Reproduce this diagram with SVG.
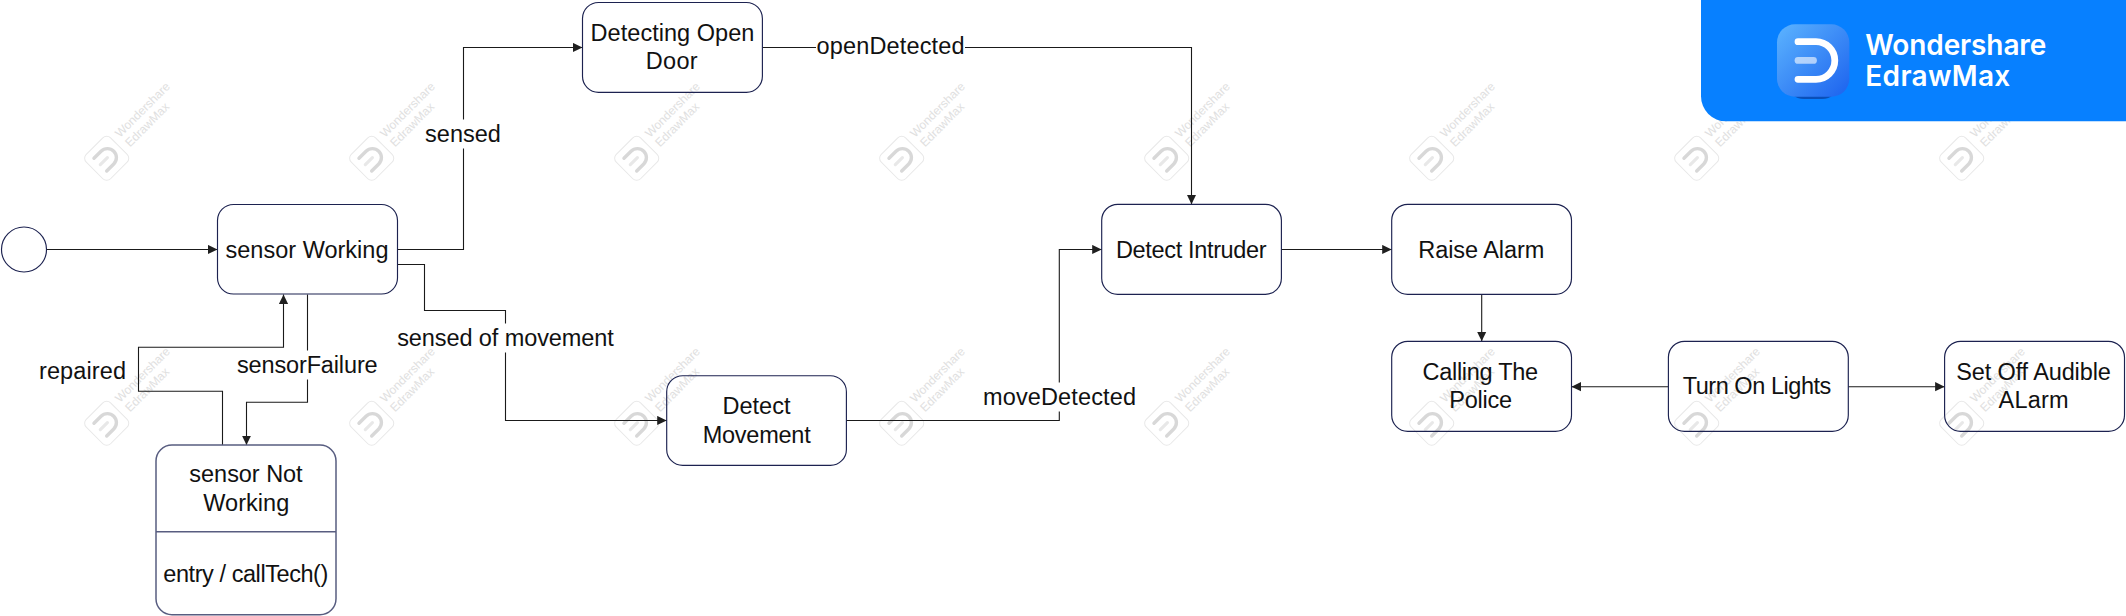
<svg xmlns="http://www.w3.org/2000/svg" width="2126" height="616" viewBox="0 0 2126 616">
  <style>
    text { font-family: "Liberation Sans", Arial, sans-serif; }
    .node { fill: none; stroke: #1c2250; stroke-width: 1.15; }
    .soft { fill: none; stroke: #585d80; stroke-width: 1.5; }
    .t { font-size: 23.5px; fill: #111111; text-anchor: middle; }
    .line { fill: none; stroke: #1a1a1a; stroke-width: 1.1; marker-end: url(#arrow); }
    .gap { fill: #ffffff; }
    .wmt { font-size: 12px; fill: #e0e0e0; }
    .brand { font-size: 28px; font-weight: 600; fill: #ffffff; font-family: Inter, "Liberation Sans", sans-serif; }
  </style>
  <defs>
    <marker id="arrow" markerUnits="userSpaceOnUse" markerWidth="10" markerHeight="10" refX="9.5" refY="5" orient="auto">
      <path d="M0 0.4 L9.5 5 L0 9.6 Z" fill="#1f1f1f"/>
    </marker>
    <linearGradient id="iconFill" x1="0" y1="0" x2="1" y2="1">
      <stop offset="0" stop-color="#5cb4ff"/>
      <stop offset="1" stop-color="#1c62ee"/>
    </linearGradient>
    <g id="wm">
      <g transform="rotate(-45)">
        <rect x="-17.2" y="-17.2" width="34.4" height="34.4" rx="5.5" fill="none" stroke="#e8e8e8" stroke-width="1"/>
        <path d="M-9 -9 H1 A9 9 0 0 1 1 9 H-9" fill="none" stroke="#d8d8d8" stroke-width="3.4" stroke-linecap="round"/>
        <path d="M-9 0 H1" fill="none" stroke="#e8e8e8" stroke-width="3.2" stroke-linecap="round"/>
      </g>
      <text class="wmt" transform="translate(13.3 -20.3) rotate(-45)">Wondershare</text>
      <text class="wmt" transform="translate(23.3 -10.7) rotate(-45)">EdrawMax</text>
    </g>
  </defs>
  <rect width="2126" height="616" fill="#ffffff"/>

  <g id="watermarks">
    <use href="#wm" x="106.7" y="158.3"/><use href="#wm" x="371.7" y="158.3"/><use href="#wm" x="636.7" y="158.3"/><use href="#wm" x="901.7" y="158.3"/><use href="#wm" x="1166.7" y="158.3"/><use href="#wm" x="1431.7" y="158.3"/><use href="#wm" x="1696.7" y="158.3"/><use href="#wm" x="1961.7" y="158.3"/>
    <use href="#wm" x="106.7" y="423.3"/><use href="#wm" x="371.7" y="423.3"/><use href="#wm" x="636.7" y="423.3"/><use href="#wm" x="901.7" y="423.3"/><use href="#wm" x="1166.7" y="423.3"/><use href="#wm" x="1431.7" y="423.3"/><use href="#wm" x="1696.7" y="423.3"/><use href="#wm" x="1961.7" y="423.3"/>
  </g>

  <g id="connectors">
    <path class="line" d="M46.5 249.5 H217.5"/>
    <path class="line" d="M397.5 249.5 H463.5 V47.5 H582.5"/>
    <rect class="gap" x="454" y="119.5" width="19" height="29"/>
    <text class="t" x="463" y="141.7" textLength="75.8">sensed</text>
    <path class="line" d="M397.5 264.5 H424.5 V310.5 H505.5 V420.5 H666.7"/>
    <rect class="gap" x="496" y="323.5" width="19" height="29"/>
    <text class="t" x="505.5" y="345.7" textLength="216.7">sensed of movement</text>
    <path class="line" d="M222.5 445 V391.3 H138.5 V347.3 H283.5 V294.5"/>
    <text class="t" x="82.5" y="379" textLength="87">repaired</text>
    <path class="line" d="M307.5 294.5 V402.3 H246.5 V445"/>
    <rect class="gap" x="298" y="350.5" width="19" height="29"/>
    <text class="t" x="307.3" y="372.7" textLength="140.7">sensorFailure</text>
    <path class="line" d="M762.4 47.5 H1191.5 V204.3"/>
    <rect class="gap" x="816" y="38" width="149" height="19"/>
    <text class="t" x="890.5" y="54" textLength="148">openDetected</text>
    <path class="line" d="M846.5 420.5 H1059.3 V249.5 H1101.7"/>
    <rect class="gap" x="1050" y="382.5" width="19" height="29"/>
    <text class="t" x="1059.5" y="405" textLength="153">moveDetected</text>
    <path class="line" d="M1281.5 249.5 H1391.7"/>
    <path class="line" d="M1481.7 294.5 V341.3"/>
    <path class="line" d="M1668.4 386.7 H1571.5"/>
    <path class="line" d="M1848.3 386.7 H1944.6"/>
  </g>

  <g id="start"><circle class="node" cx="24" cy="249.5" r="22.5"/></g>
  <g id="sensorWorking">
    <rect class="node" x="217.5" y="204.5" width="180" height="89.5" rx="16"/>
    <text class="t" x="307" y="257.5" textLength="163">sensor Working</text>
  </g>
  <g id="sensorNotWorking">
    <rect class="soft" x="156" y="445" width="180" height="169.7" rx="16"/>
    <path class="soft" d="M156 531.7 H336"/>
    <text class="t" x="246" y="482.3" textLength="113.3">sensor Not</text>
    <text class="t" x="246.3" y="510.7" textLength="86">Working</text>
    <text class="t" x="245.8" y="581.7" textLength="165">entry / callTech()</text>
  </g>
  <g id="detectingOpenDoor">
    <rect class="node" x="582.5" y="2.5" width="179.9" height="89.8" rx="16"/>
    <text class="t" x="672.5" y="40.7" textLength="163.8">Detecting Open</text>
    <text class="t" x="671.7" y="69.3" textLength="52">Door</text>
  </g>
  <g id="detectMovement">
    <rect class="node" x="666.7" y="375.7" width="179.7" height="89.7" rx="16"/>
    <text class="t" x="756.5" y="414.3" textLength="68">Detect</text>
    <text class="t" x="756.7" y="442.7" textLength="108">Movement</text>
  </g>
  <g id="detectIntruder">
    <rect class="node" x="1101.7" y="204.3" width="179.7" height="90" rx="16"/>
    <text class="t" x="1191.3" y="257.7" textLength="150.7">Detect Intruder</text>
  </g>
  <g id="raiseAlarm">
    <rect class="node" x="1391.7" y="204.3" width="179.8" height="90" rx="16"/>
    <text class="t" x="1481.3" y="257.7" textLength="126">Raise Alarm</text>
  </g>
  <g id="callingPolice">
    <rect class="node" x="1391.7" y="341.3" width="179.8" height="90" rx="16"/>
    <text class="t" x="1480.3" y="380" textLength="115.7">Calling The</text>
    <text class="t" x="1480.7" y="408.3" textLength="63">Police</text>
  </g>
  <g id="turnOnLights">
    <rect class="node" x="1668.4" y="341.3" width="179.9" height="90" rx="16"/>
    <text class="t" x="1757" y="394" textLength="148.7">Turn On Lights</text>
  </g>
  <g id="setOffAlarm">
    <rect class="node" x="1944.6" y="341.3" width="179.9" height="90" rx="16"/>
    <text class="t" x="2033.5" y="380" textLength="154.7">Set Off Audible</text>
    <text class="t" x="2033.5" y="408.3" textLength="70">ALarm</text>
  </g>

  <g id="banner">
    <path d="M1701 0 H2126 V121.3 H1726 A25 25 0 0 1 1701 96.3 Z" fill="#0780ff"/>
    <path d="M1793 95 H1833 Q1829 99 1822 99 H1804 Q1797 99 1793 95 Z" fill="#0a4fb8"/>
    <rect x="1777" y="24.3" width="72.3" height="72.4" rx="18" fill="url(#iconFill)"/>
    <path d="M1798 41.7 H1816 A18.8 18.8 0 0 1 1816 79.3 H1798" fill="none" stroke="#ffffff" stroke-width="6.8" stroke-linecap="round"/>
    <path d="M1798 60.4 H1813.5" fill="none" stroke="#ffffff" stroke-opacity="0.6" stroke-width="6.8" stroke-linecap="round"/>
    <text class="brand" x="1865.3" y="55" textLength="181">Wondershare</text>
    <text class="brand" x="1865.3" y="86" textLength="145">EdrawMax</text>
  </g>
</svg>
